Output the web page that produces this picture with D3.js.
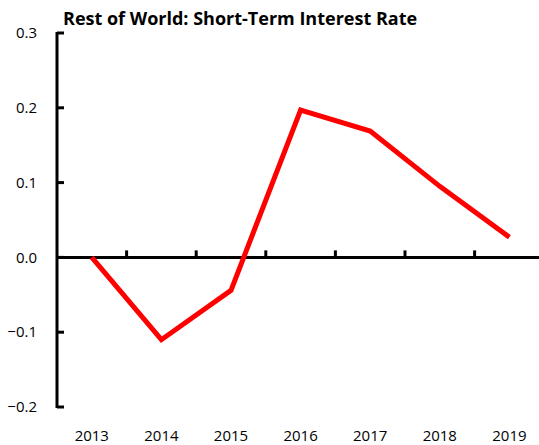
<!DOCTYPE html>
<html>
<head>
<meta charset="utf-8">
<title>Rest of World: Short-Term Interest Rate</title>
<script src="https://cdn.jsdelivr.net/npm/d3@7"></script>
<style>
body { margin: 0; background: #fff; }
text { font-family: "Open Sans", "Noto Sans", sans-serif; fill: #000; }
.title { font-size: 18px; font-weight: bold; letter-spacing: 0px; }
.tick-label { font-size: 15px; }
</style>
</head>
<body>
<script>
var years = ["2013", "2014", "2015", "2016", "2017", "2018", "2019"];
var rates = [0.0, -0.110, -0.044, 0.197, 0.169, 0.095, 0.027];
var yTicks = [-0.2, -0.1, 0.0, 0.1, 0.2, 0.3];

var width = 539, height = 445;
var plotLeft = 57, plotTop = 33, plotBottom = 407, step = 69.6;

var svg = d3.select("body").append("svg")
  .attr("width", width)
  .attr("height", height);

var x = d3.scaleBand()
  .domain(years)
  .range([plotLeft, plotLeft + step * years.length]);

var y = d3.scaleLinear()
  .domain([-0.2, 0.3])
  .range([plotBottom, plotTop]);

// y axis, ticks pointing inward
var yAxis = svg.append("g").attr("transform", "translate(" + plotLeft + ",0)");
yAxis.append("line")
  .attr("y1", y(0.3) - 1).attr("y2", y(-0.2) + 1)
  .attr("stroke", "#000").attr("stroke-width", 3);
yAxis.selectAll("line.tk").data(yTicks).enter().append("line")
  .attr("class", "tk")
  .attr("x1", 0).attr("x2", 7)
  .attr("y1", function(d) { return y(d); })
  .attr("y2", function(d) { return y(d); })
  .attr("stroke", "#000").attr("stroke-width", 3);
svg.selectAll("text.ylab").data(yTicks).enter().append("text")
  .attr("class", "tick-label ylab")
  .attr("x", 37)
  .attr("y", function(d) { return y(d); })
  .attr("dy", "0.35em")
  .attr("text-anchor", "end")
  .text(function(d) { return d3.format(".1f")(d); });

// x axis at zero
var zeroY = y(0);
svg.append("line")
  .attr("x1", plotLeft).attr("x2", width)
  .attr("y1", zeroY).attr("y2", zeroY)
  .attr("stroke", "#000").attr("stroke-width", 3);
svg.selectAll("line.xtk").data(years.slice(1)).enter().append("line")
  .attr("class", "xtk")
  .attr("x1", function(d) { return x(d); })
  .attr("x2", function(d) { return x(d); })
  .attr("y1", zeroY).attr("y2", zeroY - 7)
  .attr("stroke", "#000").attr("stroke-width", 3);
svg.selectAll("text.xlab").data(years).enter().append("text")
  .attr("class", "tick-label xlab")
  .attr("x", function(d) { return x(d) + x.bandwidth() / 2; })
  .attr("y", 441)
  .attr("text-anchor", "middle")
  .text(function(d) { return d; });

// series line
var line = d3.line()
  .x(function(d, i) { return x(years[i]) + x.bandwidth() / 2; })
  .y(function(d) { return y(d); });
svg.append("path")
  .datum(rates)
  .attr("d", line)
  .attr("fill", "none")
  .attr("stroke", "#ff0000")
  .attr("stroke-width", 5)
  .attr("stroke-linejoin", "miter");

svg.append("text")
  .attr("class", "title")
  .attr("x", 63)
  .attr("y", 25)
  .text("Rest of World: Short-Term Interest Rate");
</script>
</body>
</html>
